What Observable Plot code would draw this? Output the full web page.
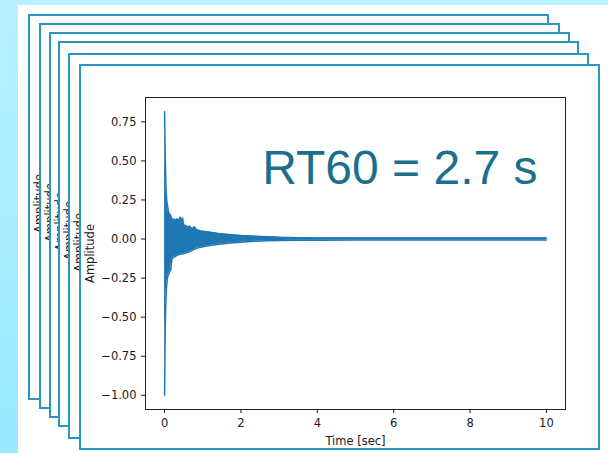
<!DOCTYPE html>
<html><head><meta charset="utf-8">
<script src="https://cdn.jsdelivr.net/npm/d3@7"></script>
<script src="https://cdn.jsdelivr.net/npm/@observablehq/plot@0.6"></script>
<style>
html,body{margin:0;padding:0}
body{width:608px;height:453px;overflow:hidden;position:relative;background:linear-gradient(to bottom,#b8f1ff,#98eaff);font-family:"DejaVu Sans",sans-serif}
#sheet{position:absolute;left:18px;top:5px;right:0;bottom:0;background:#fff}
.card{position:absolute;width:521px;height:386px;box-sizing:border-box;border:2px solid #2a98be;background:#fff}
.card svg{position:absolute;left:-2px;top:-2px;max-width:none !important}
</style></head><body><div id="sheet"></div>
<script>
// ---- data (impulse response envelope) ----
const timeSec  = [0, 0.015, 0.03, 0.045, 0.06, 0.08, 0.1, 0.13, 0.16, 0.19, 0.22, 0.25, 0.29, 0.32, 0.35, 0.38, 0.41, 0.44, 0.47, 0.5, 0.55, 0.6, 0.65, 0.7, 0.74, 0.78, 0.82, 0.85, 0.94, 1.1, 1.37, 1.6, 1.81, 2.0, 2.25, 2.5, 2.69, 3.0, 3.5, 4, 5, 6, 7, 8, 9, 10];
const upperAmp = [0.815, 0.55, 0.38, 0.29, 0.24, 0.21, 0.175, 0.16, 0.15, 0.13, 0.12, 0.128, 0.115, 0.13, 0.12, 0.125, 0.14, 0.118, 0.135, 0.09, 0.085, 0.078, 0.082, 0.07, 0.068, 0.078, 0.064, 0.06, 0.052, 0.046, 0.037, 0.031, 0.026, 0.022, 0.019, 0.016, 0.014, 0.011, 0.009, 0.007, 0.006, 0.006, 0.006, 0.006, 0.006, 0.006];
const lowerAmp = [-1.0, -0.6, -0.42, -0.33, -0.28, -0.24, -0.23, -0.21, -0.2, -0.13, -0.12, -0.115, -0.11, -0.105, -0.1, -0.1, -0.098, -0.096, -0.095, -0.094, -0.09, -0.086, -0.08, -0.075, -0.07, -0.065, -0.062, -0.058, -0.052, -0.045, -0.035, -0.029, -0.024, -0.02, -0.016, -0.013, -0.011, -0.009, -0.008, -0.007, -0.006, -0.006, -0.006, -0.006, -0.006, -0.006];
const xTicks = [0, 2, 4, 6, 8, 10];
const yTicks = [-1, -0.75, -0.5, -0.25, 0, 0.25, 0.5, 0.75];
const xLabel = "Time [sec]";
const yLabel = "Amplitude";
const annotation = "RT60 = 2.7 s";

// ---- layout of the stacked slides (front slide last) ----
const cardLeft = [28, 39, 49, 58, 68, 79];
const cardTop  = [14, 23, 32, 41, 53, 64];

const rows = timeSec.map((t, i) => ({t, hi: upperAmp[i], lo: lowerAmp[i]}));
function pad(ext) { const m = (ext[1] - ext[0]) * 0.05; return [ext[0] - m, ext[1] + m]; }
const xDomain = pad(d3.extent(timeSec));
const yDomain = pad([d3.min(lowerAmp), d3.max(upperAmp)]);
const blue = "#1f77b4";
const base = {
  width: 521, height: 386,
  marginLeft: 66, marginRight: 35, marginTop: 33, marginBottom: 41,
  style: {fontFamily: "DejaVu Sans", fontSize: "11.5px", color: "#1a1a1a", background: "transparent", overflow: "visible", maxWidth: "none"}
};
const yLabelOpts = {label: yLabel, labelAnchor: "center", labelArrow: false, labelOffset: 60};

function makeChart() {
  return Plot.plot({
    ...base,
    x: {domain: xDomain, ticks: xTicks, tickSize: 4, tickPadding: 5, tickFormat: d => String(d),
        label: xLabel, labelAnchor: "center", labelArrow: false, labelOffset: 35},
    y: {domain: yDomain, ticks: yTicks, tickSize: 4, tickPadding: 5,
        tickFormat: d => d.toFixed(2).replace("-", "\u2212"), ...yLabelOpts},
    marks: [
      Plot.areaY(rows, {x: "t", y1: "lo", y2: "hi", fill: blue}),
      Plot.line(rows, {x: "t", y: "hi", stroke: blue, strokeWidth: 1.5}),
      Plot.line(rows, {x: "t", y: "lo", stroke: blue, strokeWidth: 1.5}),
      Plot.frame({stroke: "#222", strokeWidth: 1}),
      Plot.text([annotation], {frameAnchor: "top-right", textAnchor: "end", lineAnchor: "top",
        dx: -28, dy: 52, fontSize: 48, fontFamily: "Liberation Sans, Arial, sans-serif", fill: "#1b6f8c"})
    ]
  });
}
// slides behind the front one: only their y-axis title peeks out
function makeBackChart() {
  return Plot.plot({
    ...base,
    x: {domain: xDomain, axis: null},
    y: {domain: yDomain, ticks: [], tickSize: 0, ...yLabelOpts},
    marks: []
  });
}

cardLeft.forEach((l, i) => {
  const card = document.createElement("div");
  card.className = "card";
  card.style.left = l + "px";
  card.style.top = cardTop[i] + "px";
  card.appendChild(i === cardLeft.length - 1 ? makeChart() : makeBackChart());
  document.body.appendChild(card);
});
</script>
</body></html>
